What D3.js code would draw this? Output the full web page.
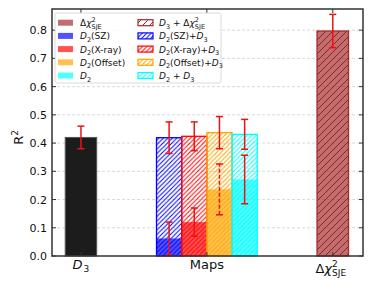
<!DOCTYPE html>
<html>
<head>
<meta charset="utf-8">
<script src="https://cdn.jsdelivr.net/npm/d3@7"></script>
<style>
  body { margin: 0; background: #fff; }
  svg { font-family: "DejaVu Sans", sans-serif; }
</style>
</head>
<body>
<svg id="chart" width="374" height="291"></svg>
<script>
// values
const groups = [0, 1, 2];            // D3, Maps, Δχ²_SJE
const d3Val = 0.42, d3Err = 0.04;
const chiVal = 0.797, chiErr = 0.059;
const mapKeys = ["SZ", "X-ray", "Offset", "all"];
const mapColors = ["#0000ff", "#ff0000", "#ffa500", "#00ffff"];
const d2Vals = [0.062, 0.12, 0.236, 0.271];
const d2Errs = [0.058, 0.05, 0.09, 0.086];
const d2d3Vals = [0.419, 0.424, 0.437, 0.431];
const d2d3Errs = [0.056, 0.051, 0.057, 0.053];
const yTicks = [0, 0.1, 0.2, 0.3, 0.4, 0.5, 0.6, 0.7, 0.8];

const svg = d3.select("#chart");
const L = 52, R = 363, T = 9, B = 256;
const x = d3.scaleLinear().domain([-0.23, 2.24]).range([L, R]);
const y = d3.scaleLinear().domain([0, 0.875]).range([B, T]);
const alpha = 0.68;

// hatch patterns
const defs = svg.append("defs");
function hatch(id, color, s, w) {
  const p = defs.append("pattern").attr("id", id)
    .attr("patternUnits", "userSpaceOnUse").attr("width", s).attr("height", s);
  p.append("path").attr("d", `M${-s / 2},${s / 2} L${s / 2},${-s / 2} M0,${s} L${s},0 M${s / 2},${1.5 * s} L${1.5 * s},${s / 2}`)
    .attr("stroke", color).attr("stroke-width", w);
}
mapColors.forEach((c, i) => hatch("h" + i, c, 4.5, 1));
hatch("hb", "#8b1a1a", 7, 0.9);

// grid
svg.append("g").selectAll("line").data(yTicks.slice(1)).enter().append("line")
  .attr("x1", L).attr("x2", R).attr("y1", d => y(d)).attr("y2", d => y(d))
  .attr("stroke", "#cfcfcf").attr("stroke-width", 0.8).attr("stroke-dasharray", "3,2");

const bars = svg.append("g");
const errs = [];

// D3 bar
const wBig = x(0.25) - x(0);
bars.append("rect").attr("x", x(0) - wBig / 2).attr("width", wBig)
  .attr("y", y(d3Val)).attr("height", y(0) - y(d3Val))
  .attr("fill", "#1c1c1c").attr("stroke", "#555").attr("stroke-width", 1);
errs.push({ x: 0, v: d3Val, e: d3Err });

// maps group
const wSmall = x(0.2) - x(0);
const offs = [-0.3, -0.1, 0.1, 0.3];
mapKeys.forEach((k, i) => {
  const cx = x(1 + offs[i]);
  bars.append("rect").attr("x", cx - wSmall / 2).attr("width", wSmall)
    .attr("y", y(d2d3Vals[i])).attr("height", y(0) - y(d2d3Vals[i]))
    .attr("fill", "url(#h" + i + ")").attr("stroke", mapColors[i]).attr("stroke-width", 1.3);
  bars.append("rect").attr("x", cx - wSmall / 2).attr("width", wSmall)
    .attr("y", y(d2Vals[i])).attr("height", y(0) - y(d2Vals[i]))
    .attr("fill", mapColors[i]).attr("fill-opacity", alpha);
  errs.push({ x: 1 + offs[i], v: d2d3Vals[i], e: d2d3Errs[i] });
  errs.push({ x: 1 + offs[i], v: d2Vals[i], e: d2Errs[i], dash: k === "Offset" });
});

// Δχ² bar
bars.append("rect").attr("x", x(2) - wBig / 2).attr("width", wBig)
  .attr("y", y(chiVal)).attr("height", y(0) - y(chiVal))
  .attr("fill", "#a52a2a").attr("fill-opacity", alpha);
bars.append("rect").attr("x", x(2) - wBig / 2).attr("width", wBig)
  .attr("y", y(chiVal)).attr("height", y(0) - y(chiVal))
  .attr("fill", "url(#hb)").attr("stroke", "#a52a2a").attr("stroke-width", 1.3);
errs.push({ x: 2, v: chiVal, e: chiErr });

// error bars
const eg = svg.append("g").attr("stroke", "#ee1111").attr("stroke-width", 1.5);
errs.forEach(d => {
  const cx = x(d.x);
  eg.append("line").attr("x1", cx).attr("x2", cx)
    .attr("y1", y(d.v - d.e)).attr("y2", y(d.v + d.e))
    .attr("stroke-dasharray", d.dash ? "4,2" : null);
  [d.v - d.e, d.v + d.e].forEach(v => {
    eg.append("line").attr("x1", cx - 3.5).attr("x2", cx + 3.5)
      .attr("y1", y(v)).attr("y2", y(v));
  });
});

// frame and ticks
const ax = svg.append("g").attr("stroke", "#333");
ax.append("rect").attr("x", L).attr("y", T).attr("width", R - L).attr("height", B - T)
  .attr("fill", "none").attr("stroke-width", 1.5);
yTicks.forEach(t => {
  ax.append("line").attr("x1", L).attr("x2", L + 4).attr("y1", y(t)).attr("y2", y(t));
  ax.append("line").attr("x1", R).attr("x2", R - 4).attr("y1", y(t)).attr("y2", y(t));
});
groups.forEach(g => {
  ax.append("line").attr("x1", x(g)).attr("x2", x(g)).attr("y1", B).attr("y2", B - 4);
  ax.append("line").attr("x1", x(g)).attr("x2", x(g)).attr("y1", T).attr("y2", T + 4);
});

svg.append("g").selectAll("text").data(yTicks).enter().append("text")
  .attr("x", L - 5).attr("y", d => y(d) + 4).attr("text-anchor", "end")
  .attr("font-size", 11).attr("fill", "#111").text(d => d.toFixed(1));

// y label
const yl = svg.append("text").attr("transform", "translate(23," + y(0.42) + ") rotate(-90)")
  .attr("text-anchor", "middle").attr("font-size", 13).attr("fill", "#111");
yl.append("tspan").text("R");
yl.append("tspan").attr("font-size", 9).attr("dy", -5).text("2");

// x labels
const xl = svg.append("g").attr("font-size", 13).attr("fill", "#111");
const t0 = xl.append("text").attr("x", x(0)).attr("y", 269).attr("text-anchor", "middle");
t0.append("tspan").attr("font-style", "italic").text("D");
t0.append("tspan").attr("font-size", 9).attr("dx", 1).attr("dy", 3).text("3");
xl.append("text").attr("x", x(1)).attr("y", 269).attr("text-anchor", "middle").text("Maps");
const t2 = xl.append("text").attr("x", x(2) - 2).attr("y", 272.5).attr("text-anchor", "middle");
t2.append("tspan").text("Δ");
t2.append("tspan").attr("font-style", "italic").text("χ");
t2.append("tspan").attr("font-size", 9).attr("dy", -6).text("2");
t2.append("tspan").attr("font-size", 9).attr("dx", -5.7).attr("dy", 9.5).text("SJE");

// legend
const lg = svg.append("g");
lg.append("rect").attr("x", 55).attr("y", 13).attr("width", 166).attr("height", 70)
  .attr("rx", 2).attr("fill", "#fff").attr("fill-opacity", 0.85)
  .attr("stroke", "#d0d0d0").attr("stroke-width", 0.8);
const rowY = [22.7, 35.9, 49.1, 62.3, 75.5];
// parts: s text, i italic, sm small, dy, dx
function lbl(t, parts) {
  parts.forEach(p => {
    const s = t.append("tspan").text(p.s);
    if (p.i) s.attr("font-style", "italic");
    if (p.sm) s.attr("font-size", 6.5);
    if (p.dy) s.attr("dy", p.dy);
    if (p.dx) s.attr("dx", p.dx);
  });
}
const chi = [{ s: "χ", i: 1 }, { s: "2", sm: 1, dy: -4 }, { s: "SJE", sm: 1, dx: -4.1, dy: 6.5 }];
const col1 = [
  { c: "#a52a2a", parts: [{ s: "Δ" }].concat(chi) },
  { c: mapColors[0], parts: [{ s: "D", i: 1 }, { s: "2", sm: 1, dy: 2.5 }, { s: "(SZ)", dy: -2.5 }] },
  { c: mapColors[1], parts: [{ s: "D", i: 1 }, { s: "2", sm: 1, dy: 2.5 }, { s: "(X-ray)", dy: -2.5 }] },
  { c: mapColors[2], parts: [{ s: "D", i: 1 }, { s: "2", sm: 1, dy: 2.5 }, { s: "(Offset)", dy: -2.5 }] },
  { c: mapColors[3], parts: [{ s: "D", i: 1 }, { s: "2", sm: 1, dy: 2.5 }] }
];
const col2 = [
  { h: "hb", c: "#a52a2a", parts: [{ s: "D", i: 1 }, { s: "3", sm: 1, dy: 2.5 }, { s: " + Δ", dy: -2.5 }].concat(chi) },
  { h: "h0", c: mapColors[0], parts: [{ s: "D", i: 1 }, { s: "2", sm: 1, dy: 2.5 }, { s: "(SZ)+", dy: -2.5 }, { s: "D", i: 1 }, { s: "3", sm: 1, dy: 2.5 }] },
  { h: "h1", c: mapColors[1], parts: [{ s: "D", i: 1 }, { s: "2", sm: 1, dy: 2.5 }, { s: "(X-ray)+", dy: -2.5 }, { s: "D", i: 1 }, { s: "3", sm: 1, dy: 2.5 }] },
  { h: "h2", c: mapColors[2], parts: [{ s: "D", i: 1 }, { s: "2", sm: 1, dy: 2.5 }, { s: "(Offset)+", dy: -2.5 }, { s: "D", i: 1 }, { s: "3", sm: 1, dy: 2.5 }] },
  { h: "h3", c: mapColors[3], parts: [{ s: "D", i: 1 }, { s: "2", sm: 1, dy: 2.5 }, { s: " + ", dy: -2.5 }, { s: "D", i: 1 }, { s: "3", sm: 1, dy: 2.5 }] }
];
col1.forEach((d, i) => {
  lg.append("rect").attr("x", 58).attr("y", rowY[i] - 3).attr("width", 15).attr("height", 6)
    .attr("fill", d.c).attr("fill-opacity", alpha);
  lbl(lg.append("text").attr("x", 80).attr("y", rowY[i] + 3.5).attr("font-size", 9).attr("fill", "#111"), d.parts);
});
col2.forEach((d, i) => {
  lg.append("rect").attr("x", 138).attr("y", rowY[i] - 3).attr("width", 15).attr("height", 6)
    .attr("fill", "url(#" + d.h + ")").attr("stroke", d.c).attr("stroke-width", 1.2);
  lbl(lg.append("text").attr("x", 159).attr("y", rowY[i] + 3.5).attr("font-size", 9).attr("fill", "#111"), d.parts);
});
</script>
</body>
</html>
